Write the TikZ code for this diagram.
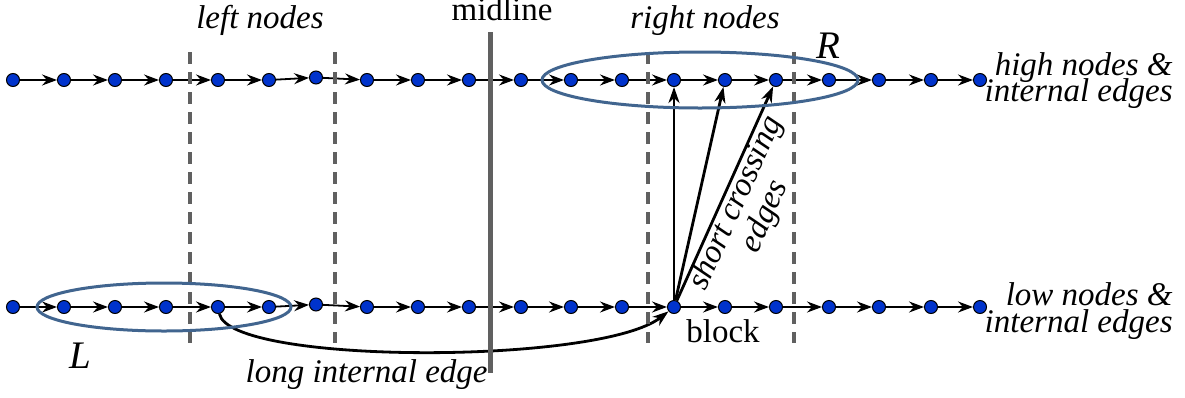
\documentclass[tikz,border=0pt]{standalone}
\usepackage{fontspec}
\setmainfont{Liberation Serif}[ItalicFont={Liberation Serif Italic}]
\usetikzlibrary{arrows.meta}
\definecolor{nodeblue}{HTML}{0033CC}
\definecolor{ellblue}{HTML}{41658F}
\definecolor{lgray}{HTML}{606060}
\begin{document}
\begin{tikzpicture}[x=0.5pt,y=-0.5pt,
  vtx/.style={circle,draw=black,line width=0.5pt,fill=nodeblue,inner sep=0pt,minimum size=6.5pt},
  iedge/.style={line width=0.9pt,-{Stealth[length=7.5pt,width=5.5pt,inset=2.5pt]}},
  cedge/.style={line width=1.4pt,-{Stealth[length=8pt,width=5.5pt,inset=2.5pt]}},
  divider/.style={lgray,line width=1.6pt,dash pattern=on 6pt off 4pt},
  midstyle/.style={lgray,line width=2.5pt},
  ell/.style={ellblue,line width=1.5pt},
  lbl/.style={font=\fontsize{16.5}{13.5}\selectfont\itshape,inner sep=0pt,anchor=base},
  rlbl/.style={font=\fontsize{16.5}{13.5}\selectfont,inner sep=0pt,anchor=base},
  big/.style={font=\fontsize{19.5}{20}\selectfont\itshape,inner sep=0pt,anchor=base}]
\useasboundingbox (0,0) rectangle (1185,397);

% vertices
\foreach \i/\x/\d in {0/13/0,1/64/0,2/115/0,3/166/0,4/218/0,5/269/0,6/316/2.5,7/367/0,8/418/0,9/469/0,10/521/0,11/571/0,12/622/0,13/674/0,14/725/0,15/776/0,16/829/0,17/879/0,18/931/0,19/980/0}{
  \node[vtx] (t\i) at (\x,{80-\d}) {};
  \node[vtx] (b\i) at (\x,{307-\d}) {};
}

% internal edges
\foreach \i [evaluate=\i as \j using int(\i+1)] in {0,...,18}{
  \draw[iedge] (t\i) -- (t\j);
  \draw[iedge] (b\i) -- (b\j);
}

% crossing edges
\draw[cedge] (b13) -- (t13);
\draw[cedge] (b13) -- (t14);
\draw[cedge] (b13) -- (t15);

% long internal edge
\draw[cedge] (b4) .. controls (230,365) and (600,365) .. (b13);

% dividers
\foreach \x in {190,335,648,794}{
  \draw[divider] (\x,52) -- (\x,343);
}
\draw[midstyle] (490,32) -- (490,373);

% ellipses
\draw[ell] (700,80) ellipse [x radius=79pt, y radius=14pt];
\draw[ell] (164,307) ellipse [x radius=63.5pt, y radius=12pt];

% labels
\node[rlbl] (midl) at (502,20) {midline};
\node[lbl] (ln) at (260,28) {left nodes};
\node[lbl] (rn) at (705,28) {right nodes};
\node[big] (R) at (828,58) {R};
\node[big] (L) at (80,368) {L};
\node[lbl,anchor=base east] (hi1) at (1173,75) {high nodes \&};
\node[lbl,anchor=base east] (hi2) at (1173,101) {internal edges};
\node[lbl,anchor=base east] (lo1) at (1173,305) {low nodes \&};
\node[lbl,anchor=base east] (lo2) at (1173,332) {internal edges};
\node[lbl,anchor=base east] (lie) at (488,382) {long internal edge};
\node[rlbl] (blk) at (723,342) {block};
\node[lbl,anchor=center,align=center,rotate=65.9] (sce) at (751,210) {short crossing\\edges};
\end{tikzpicture}
\end{document}
